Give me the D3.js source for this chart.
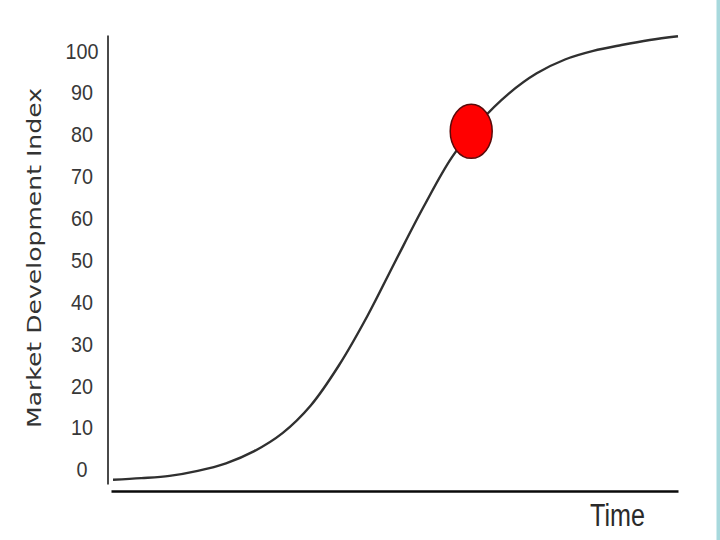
<!DOCTYPE html>
<html>
<head>
<meta charset="utf-8">
<script src="https://cdn.jsdelivr.net/npm/d3@7"></script>
<style>
  html, body { margin: 0; padding: 0; background: #fff; }
  svg { display: block; }
</style>
</head>
<body>
<svg id="chart" width="720" height="540"></svg>
<script>
// ---- data ----
const timePoints  = [0, 5, 10, 15, 20, 25, 30, 35, 40, 45, 50, 55, 60, 65, 70, 75, 80, 85, 90, 95, 100];
const indexValues = [-2.6, -2.2, -1.65, -0.45, 1.35, 4.25, 8.55, 15.15, 24.75, 36.45, 49.65, 62.65, 74.45, 82.95, 89.55, 94.45, 97.75, 99.8, 101.2, 102.4, 103.3];
const yTicks = [0, 10, 20, 30, 40, 50, 60, 70, 80, 90, 100];
const markerPoint = [63.4, 80.6];
const yLabel = "Market Development Index";
const xLabel = "Time";

// ---- layout ----
const svg = d3.select("#chart");
svg.append("rect").attr("width", 720).attr("height", 540).attr("fill", "#fff");

const x = d3.scaleLinear().domain([0, 100]).range([113, 678]);
const y = d3.scaleLinear().domain([-3.6, 103.6]).range([484, 35]);

// right edge teal border
svg.append("rect").attr("x", 716.5).attr("y", 0).attr("width", 3.5).attr("height", 540)
  .attr("fill", "#a8d9dd");

// y axis
const yAxis = d3.axisLeft(y).tickValues(yTicks).tickSize(0).tickPadding(0).tickFormat(d3.format("d"));
const gy = svg.append("g").attr("transform", "translate(107.5,0)").call(yAxis);
gy.select(".domain").attr("stroke", "#4a4a4a").attr("stroke-width", 2);
gy.selectAll(".tick text")
  .attr("x", -25.5)
  .attr("dy", "0.36em")
  .attr("text-anchor", "middle")
  .attr("font-family", "'Liberation Sans', Arial, sans-serif")
  .attr("font-size", 22)
  .attr("fill", "#383838")
  .attr("textLength", d => String(d).length * 11)
  .attr("lengthAdjust", "spacingAndGlyphs");

// x axis line (no ticks)
const xAxis = d3.axisBottom(d3.scaleLinear().domain([0, 100]).range([111, 678])).tickValues([]).tickSizeOuter(0);
const gx = svg.append("g").attr("transform", "translate(0,491)").call(xAxis);
gx.select(".domain").attr("stroke", "#0a0a0a").attr("stroke-width", 2.6);

// curve
const line = d3.line()
  .x((d, i) => x(timePoints[i]))
  .y(d => y(d))
  .curve(d3.curveCatmullRom.alpha(0.5));
svg.append("path")
  .datum(indexValues)
  .attr("d", line)
  .attr("fill", "none")
  .attr("stroke", "#303030")
  .attr("stroke-width", 2.4);

// red marker
svg.append("ellipse")
  .attr("cx", x(markerPoint[0]))
  .attr("cy", y(markerPoint[1]))
  .attr("rx", 21)
  .attr("ry", 27)
  .attr("fill", "#ff0000")
  .attr("stroke", "#5a0a0a")
  .attr("stroke-width", 1.5);

// axis titles
svg.append("text")
  .attr("transform", "translate(41,258) rotate(-90)")
  .attr("text-anchor", "middle")
  .attr("font-family", "'DejaVu Sans', Verdana, sans-serif")
  .attr("font-size", 20)
  .attr("fill", "#333")
  .attr("textLength", 340)
  .attr("lengthAdjust", "spacingAndGlyphs")
  .text(yLabel);

svg.append("text")
  .attr("x", 617.5)
  .attr("y", 526)
  .attr("text-anchor", "middle")
  .attr("font-family", "'Liberation Sans', Arial, sans-serif")
  .attr("font-size", 31)
  .attr("fill", "#2a2a2a")
  .attr("textLength", 55)
  .attr("lengthAdjust", "spacingAndGlyphs")
  .text(xLabel);
</script>
</body>
</html>
